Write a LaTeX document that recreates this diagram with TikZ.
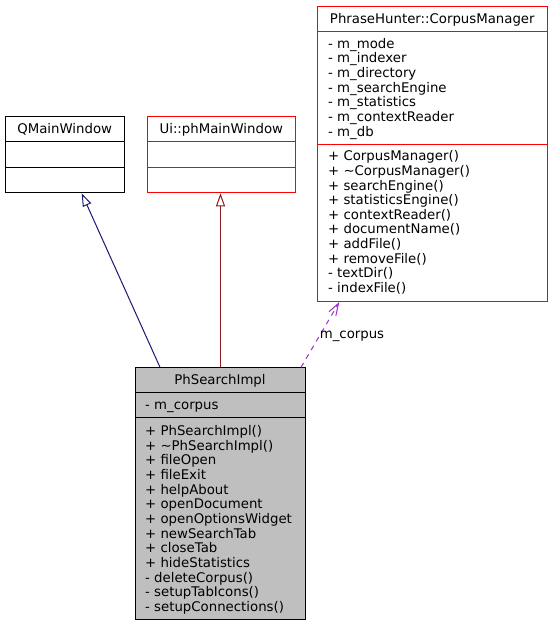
\documentclass[tikz,border=0pt]{standalone}
\usepackage{fontspec}
\setmainfont{DejaVu Sans}
\usetikzlibrary{arrows.meta,calc}
\definecolor{mblue}{HTML}{191970}
\definecolor{fbrick}{HTML}{8B1A1A}
\definecolor{dorchid}{HTML}{9A32CD}
\definecolor{boxgray}{HTML}{BFBFBF}
\begin{document}
\begin{tikzpicture}[x=1pt,y=-1pt,
  box/.style={draw, line width=1pt, anchor=north west, inner sep=0pt},
  txt/.style={anchor=base west, inner sep=0pt, font=\fontsize{13.3pt}{16pt}\selectfont},
  ttl/.style={txt, anchor=base},
  inh/.style={line width=1pt, -{Triangle[open,length=13pt,width=9pt,fill=white]}},
  use/.style={line width=1pt, dash pattern=on 5pt off 5pt, -{Straight Barb[length=12pt,width=8pt]}}
]
\useasboundingbox (0,0) rectangle (552,624);

% boxes
\node[box, draw=red, minimum width=230pt, minimum height=295.3pt] (cm) at (317.3,5.7) {};
\node[box, minimum width=119.3pt, minimum height=76.3pt] (qmw) at (5,116) {};
\node[box, draw=red, minimum width=148pt, minimum height=76.3pt] (ui) at (147.3,116) {};
\node[box, fill=boxgray, minimum width=170pt, minimum height=251.7pt] (psi) at (135,367.3) {};

% separators
\draw[red, line width=1pt] ([yshift=-26pt]cm.north west) -- ([yshift=-26pt]cm.north east);
\draw[red, line width=1pt] ([yshift=-138.6pt]cm.north west) -- ([yshift=-138.6pt]cm.north east);
\draw[line width=1pt] ([yshift=-25.7pt]qmw.north west) -- ([yshift=-25.7pt]qmw.north east);
\draw[line width=1pt] ([yshift=-51.3pt]qmw.north west) -- ([yshift=-51.3pt]qmw.north east);
\draw[red, line width=1pt] ([yshift=-25.7pt]ui.north west) -- ([yshift=-25.7pt]ui.north east);
\draw[red, line width=1pt] ([yshift=-51.3pt]ui.north west) -- ([yshift=-51.3pt]ui.north east);
\draw[line width=1pt] ([yshift=-25.4pt]psi.north west) -- ([yshift=-25.4pt]psi.north east);
\draw[line width=1pt] ([yshift=-50.4pt]psi.north west) -- ([yshift=-50.4pt]psi.north east);

% titles
\node[ttl] (cmt) at (432.3,23.3) {PhraseHunter::CorpusManager};
\node[ttl] (qmwt) at (64.7,133.1) {QMainWindow};
\node[ttl] (uit) at (221.3,133.1) {Ui::phMainWindow};
\node[ttl] (psit) at (220,384.1) {PhSearchImpl};

% CorpusManager members
\foreach \t [count=\i from 0] in {- m\_mode, - m\_indexer, - m\_directory, - m\_searchEngine, - m\_statistics, - m\_contextReader, - m\_db}
  \node[txt] (cma\i) at (328,48.1+14.67*\i) {\t};
\foreach \t [count=\i from 0] in {+ CorpusManager(), + \textasciitilde CorpusManager(), + searchEngine(), + statisticsEngine(), + contextReader(), + documentName(), + addFile(), + removeFile(), - textDir(), - indexFile()}
  \node[txt] (cmm\i) at (328,160.8+14.6*\i) {\t};

% PhSearchImpl members
\node[txt] (psia) at (145,409.1) {- m\_corpus};
\foreach \t [count=\i from 0] in {+ PhSearchImpl(), + \textasciitilde PhSearchImpl(), + fileOpen, + fileExit, + helpAbout, + openDocument, + openOptionsWidget, + newSearchTab, + closeTab, + hideStatistics, - deleteCorpus(), - setupTabIcons(), - setupConnections()}
  \node[txt] (psim\i) at (145,435.5+14.67*\i) {\t};

% edges
\draw[inh, mblue] ($(psi.north west)+(25,0)$) -- ($(qmw.south west)+(76.7,0)$);
\draw[inh, fbrick] (psi.north) -- (psi.north |- ui.south);
\draw[use, dorchid] ($(psi.north east)+(-5,0)$) -- ($(cm.south west)+(22,0)$);
\node[ttl] (lbl) at (352,338) {m\_corpus};
\end{tikzpicture}
\end{document}
